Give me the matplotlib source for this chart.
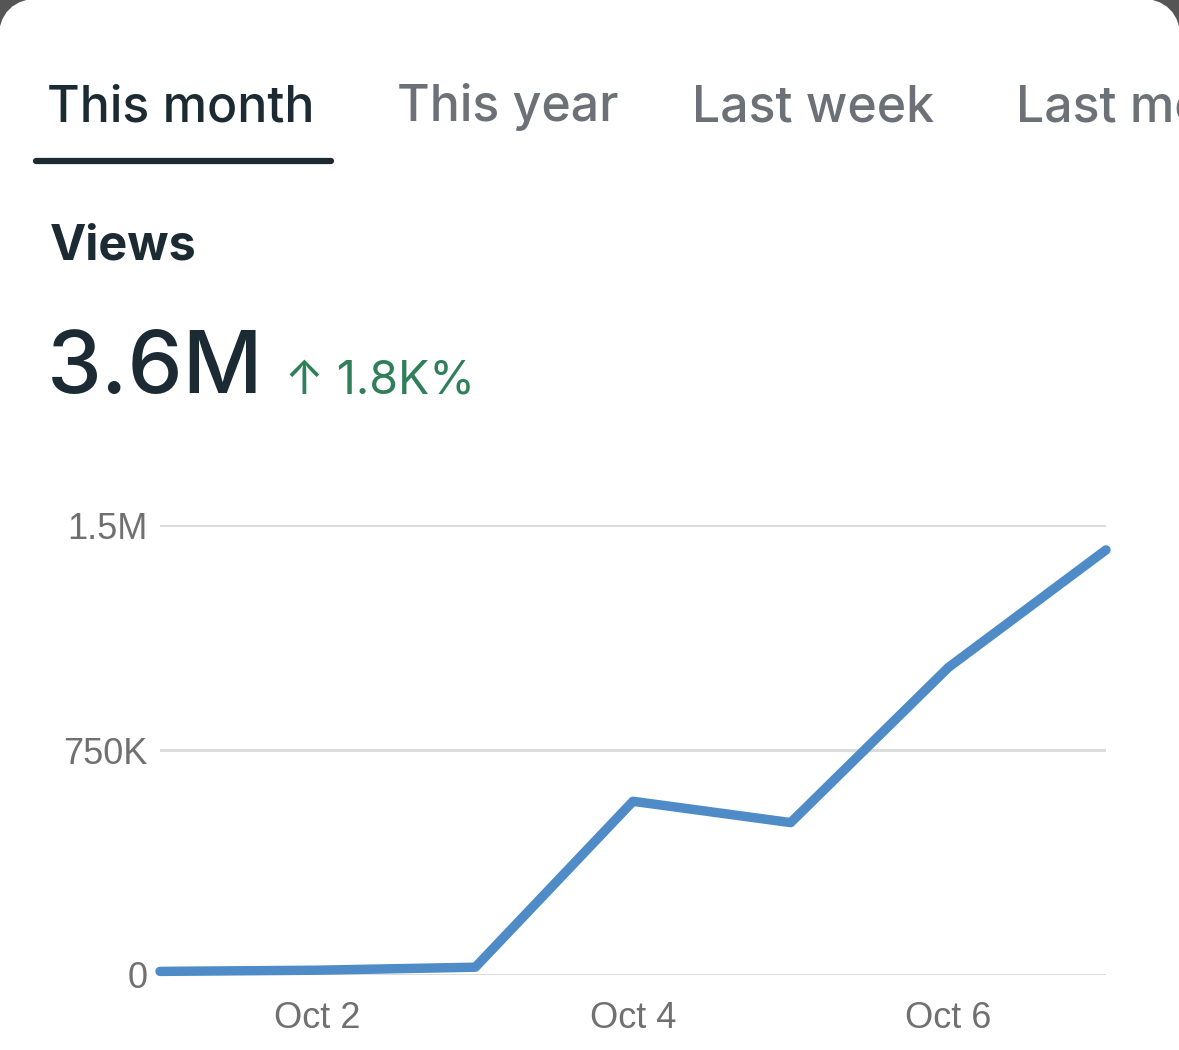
import matplotlib.pyplot as plt
from matplotlib.patches import FancyBboxPatch
import numpy as np

W, H = 1179, 1050

# data
days = ['Oct 1', 'Oct 2', 'Oct 3', 'Oct 4', 'Oct 5', 'Oct 6', 'Oct 7']
views = [12000, 16000, 26000, 579000, 508000, 1025000, 1417000]
yTicks = [0, 750000, 1500000]
yTickLabels = ['0', '750K', '1.5M']
xTickDays = ['Oct 2', 'Oct 4', 'Oct 6']
tabs = ['This month', 'This year', 'Last week', 'Last month']

dark = '#1c2b33'
gray = '#6b7177'
green = '#2f7f5a'
blue = '#4e8bc7'


def fx(px):
    return px / W


def fy(py):
    return 1 - py / H


fig = plt.figure(figsize=(W / 100, H / 100), dpi=100)
fig.patch.set_facecolor('#555555')

# white card with rounded top corners
card = FancyBboxPatch((fx(-2), fy(1200)), fx(W + 4), (1200 + 2) / H,
                      boxstyle='round,pad=0,rounding_size=0.038',
                      transform=fig.transFigure, facecolor='white',
                      edgecolor='none', mutation_aspect=W / H, zorder=-10)
fig.patches.append(card)

# tabs (the last one runs off the right edge, as in the app)
tabX = [47, 397, 692, 1016]
for i, (t, x) in enumerate(zip(tabs, tabX)):
    fig.text(fx(x), fy(121), t, fontsize=36, family='Inter',
             fontweight='medium', color=dark if i == 0 else gray,
             ha='left', va='baseline')
fig.add_artist(plt.Line2D([fx(36), fx(331)], [fy(161), fy(161)],
                          transform=fig.transFigure, color=dark,
                          linewidth=4.5, solid_capstyle='round'))

fig.text(fx(50), fy(259), 'Views', fontsize=35, family='Inter',
         fontweight='bold', color=dark, ha='left', va='baseline')
fig.text(fx(47), fy(393), '3.6M', fontsize=63, family='Inter',
         fontweight='medium', color=dark, ha='left', va='baseline')
fig.text(fx(285), fy(393), '\u2191 1.8K%', fontsize=33.5,
         family=['Inter', 'DejaVu Sans'], color=green,
         ha='left', va='baseline')

# chart
ax = fig.add_axes([fx(160), fy(975), fx(1106 - 160), (975 - 525) / H])
ax.set_facecolor('none')
x = np.arange(len(days))
ax.plot(x, views, color=blue, linewidth=6.8, solid_capstyle='round',
        solid_joinstyle='round', clip_on=False, zorder=3)
ax.set_xlim(0, len(days) - 1)
ax.set_ylim(0, 1500000)
ax.set_yticks(yTicks)
ax.set_yticklabels(yTickLabels)
ax.set_xticks([days.index(d) for d in xTickDays])
ax.set_xticklabels(xTickDays)
for s in ax.spines.values():
    s.set_visible(False)
ax.grid(axis='y', color='#dcdcdc', linewidth=2.2)
ax.set_axisbelow(True)
ax.tick_params(length=0, labelsize=26, labelcolor='#707070')
ax.tick_params(axis='y', pad=9)
ax.tick_params(axis='x', pad=19)
for lab in ax.get_xticklabels() + ax.get_yticklabels():
    lab.set_family('Liberation Sans')

fig.savefig('out.png', dpi=100, facecolor=fig.get_facecolor())
